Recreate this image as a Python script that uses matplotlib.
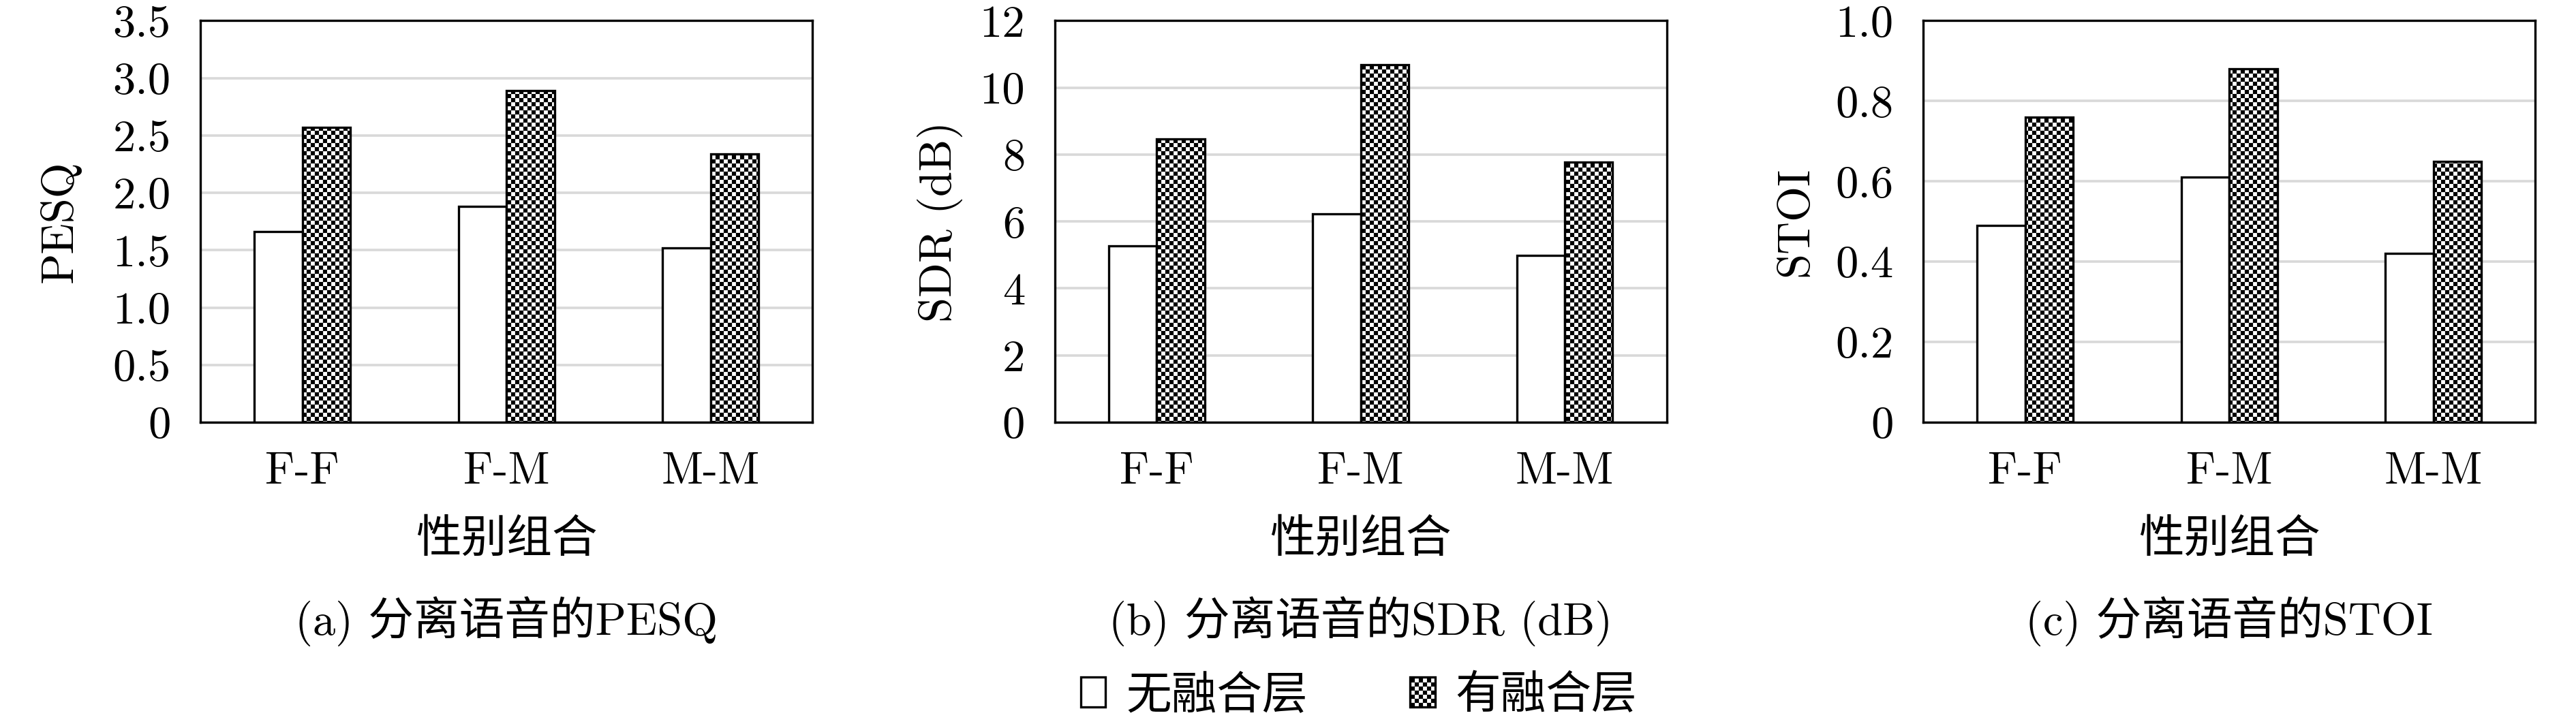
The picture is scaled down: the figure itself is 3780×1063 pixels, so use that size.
import warnings
import numpy as np
import matplotlib
matplotlib.use('Agg')
import matplotlib.pyplot as plt
import matplotlib.hatch as mhatch
from matplotlib.path import Path
from matplotlib.patches import Patch

warnings.filterwarnings('ignore', message='.*hatch must consist.*')

# data
groups = ['F-F', 'F-M', 'M-M']
series_names = ['无融合层', '有融合层']

pesq_without = [1.66, 1.88, 1.52]
pesq_with = [2.57, 2.89, 2.34]
sdr_without = [5.27, 6.23, 4.98]
sdr_with = [8.47, 10.68, 7.77]
stoi_without = [0.49, 0.61, 0.42]
stoi_with = [0.76, 0.88, 0.65]

pesq_ticks = [0, 0.5, 1.0, 1.5, 2.0, 2.5, 3.0, 3.5]
pesq_ticklabels = ['0', '0.5', '1.0', '1.5', '2.0', '2.5', '3.0', '3.5']
sdr_ticks = [0, 2, 4, 6, 8, 10, 12]
sdr_ticklabels = ['0', '2', '4', '6', '8', '10', '12']
stoi_ticks = [0, 0.2, 0.4, 0.6, 0.8, 1.0]
stoi_ticklabels = ['0', '0.2', '0.4', '0.6', '0.8', '1.0']

ylabels = ['PESQ', 'SDR (dB)', 'STOI']
captions = ['(a) 分离语音的PESQ', '(b) 分离语音的SDR (dB)', '(c) 分离语音的STOI']
xlabel = '性别组合'


# checkerboard hatch ('c')
class CheckerHatch(mhatch.HatchPatternBase):
    def __init__(self, hatch, density):
        self.num_cells = 40 * hatch.count('c')
        self.num_vertices = 5 * (self.num_cells ** 2 // 2)

    def set_vertices_and_codes(self, vertices, codes):
        n = self.num_cells
        s = 1.0 / n
        square = np.array([[0, 0], [s, 0], [s, s], [0, s], [0, 0]])
        parts = []
        for i in range(n):
            for j in range(n):
                if (i + j) % 2 == 0:
                    parts.append(square + [i * s, j * s])
        vertices[:] = np.concatenate(parts)
        codes[:] = np.tile([Path.MOVETO, Path.LINETO, Path.LINETO,
                            Path.LINETO, Path.CLOSEPOLY], len(parts))


mhatch._hatch_types.append(CheckerHatch)

plt.rcParams['font.family'] = ['cmr10', 'Noto Sans CJK SC']
plt.rcParams['axes.formatter.use_mathtext'] = True
plt.rcParams['hatch.linewidth'] = 0.05
plt.rcParams['hatch.color'] = 'black'

fs = 20
fig = plt.figure(figsize=(15.75, 1063 / 240), dpi=240)

lefts = [0.0778, 0.4094, 0.7466]
ylabel_x = [-0.195, -0.15, -0.175]
panels = [
    (pesq_without, pesq_with, pesq_ticks, pesq_ticklabels, 3.5),
    (sdr_without, sdr_with, sdr_ticks, sdr_ticklabels, 12),
    (stoi_without, stoi_with, stoi_ticks, stoi_ticklabels, 1.0),
]

x = np.arange(len(groups))
w = 0.235

for i, (vals_a, vals_b, ticks, ticklabels, ymax) in enumerate(panels):
    ax = fig.add_axes([lefts[i], 0.4167, 0.2376, 0.5547])
    ax.bar(x - w / 2, vals_a, w, color='white', edgecolor='black', linewidth=1.0)
    ax.bar(x + w / 2, vals_b, w, color='white', edgecolor='black', linewidth=1.0,
           hatch='c')
    ax.set_xlim(-0.5, 2.5)
    ax.set_ylim(0, ymax)
    ax.set_xticks(x, groups)
    ax.set_yticks(ticks, ticklabels)
    ax.tick_params(length=0, pad=13, labelsize=fs)
    ax.set_axisbelow(True)
    ax.yaxis.grid(True, color='#d9d9d9', linewidth=1.1)
    for sp in ax.spines.values():
        sp.set_linewidth(1.0)
        sp.set_color('black')

    ax.set_ylabel(ylabels[i], fontsize=fs)
    ax.yaxis.set_label_coords(ylabel_x[i], 0.5)
    ax.set_xlabel(xlabel, fontsize=fs)
    ax.xaxis.set_label_coords(0.5, -0.293)
    ax.xaxis.label.set_va('center')
    ax.text(0.5, -0.495, captions[i], transform=ax.transAxes, ha='center',
            va='center', fontsize=fs)

handles = [Patch(facecolor='white', edgecolor='black', linewidth=1.0),
           Patch(facecolor='white', edgecolor='black', linewidth=1.0, hatch='c')]
fig.legend(handles, series_names, loc='center', bbox_to_anchor=(0.5275, 0.039),
           ncol=2, frameon=False, fontsize=fs, handlelength=0.55,
           handleheight=0.65, handletextpad=0.45, columnspacing=2.25)

fig.savefig('out.png', dpi=240)
